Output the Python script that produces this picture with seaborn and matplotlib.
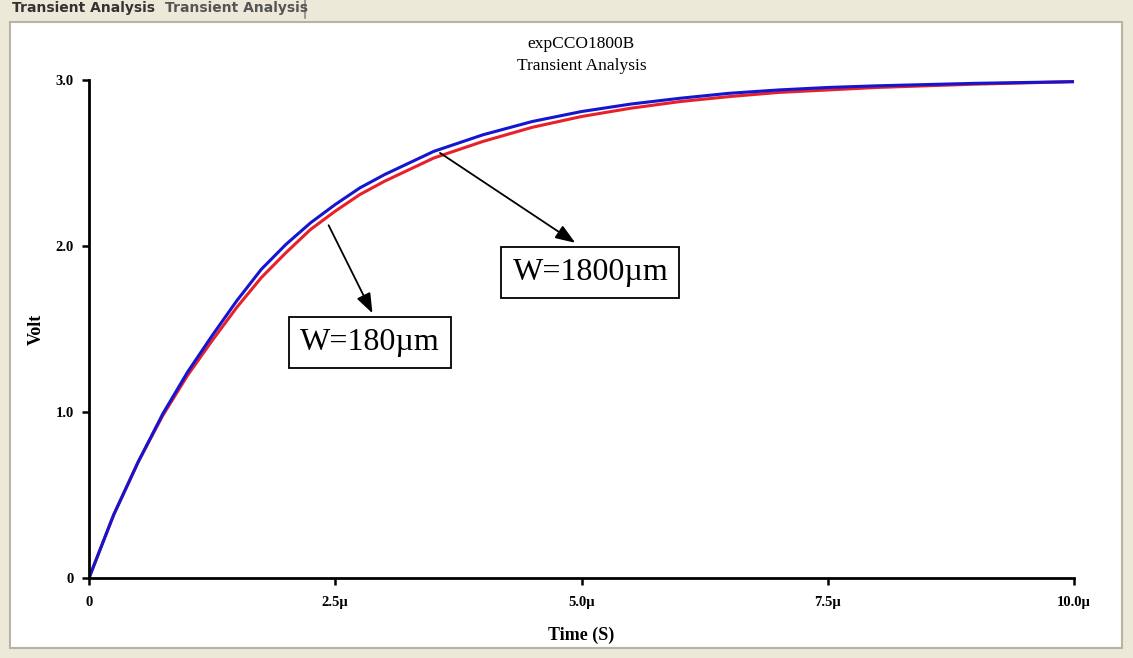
import pandas as pd
import seaborn as sns
import matplotlib.pyplot as plt
from matplotlib.patches import Rectangle

# tiempo en microsegundos
t_us = [0, 0.25, 0.5, 0.75, 1.0, 1.25, 1.5, 1.75, 2.0, 2.25, 2.5, 2.75, 3.0,
        3.5, 4.0, 4.5, 5.0, 5.5, 6.0, 6.5, 7.0, 7.5, 8.0, 9.0, 10.0]
v_180 = [0, 0.38, 0.70, 0.98, 1.22, 1.43, 1.63, 1.81, 1.96, 2.10, 2.21, 2.31, 2.39,
         2.53, 2.63, 2.715, 2.78, 2.83, 2.87, 2.90, 2.925, 2.94, 2.955, 2.975, 2.99]
v_1800 = [0, 0.38, 0.70, 0.99, 1.24, 1.46, 1.67, 1.86, 2.01, 2.14, 2.25, 2.35, 2.43,
          2.57, 2.67, 2.75, 2.81, 2.855, 2.89, 2.92, 2.94, 2.955, 2.965, 2.98, 2.99]
series = ["W=180µm", "W=1800µm"]
x_ticks = [0, 2.5, 5.0, 7.5, 10.0]
x_ticklabels = ["0", "2.5µ", "5.0µ", "7.5µ", "10.0µ"]
y_ticks = [0, 1.0, 2.0, 3.0]
y_ticklabels = ["0", "1.0", "2.0", "3.0"]

df = pd.concat([
    pd.DataFrame({"t": t_us, "v": v_180, "W": series[0]}),
    pd.DataFrame({"t": t_us, "v": v_1800, "W": series[1]}),
])

sns.set_style("white")
plt.rcParams["font.family"] = ["Liberation Serif", "DejaVu Serif"]
plt.rcParams["text.color"] = "black"
plt.rcParams["axes.labelcolor"] = "black"
plt.rcParams["xtick.color"] = "black"
plt.rcParams["ytick.color"] = "black"

fig = plt.figure(figsize=(11.33, 6.58), dpi=100, facecolor="#ece9d8")
# panel blanco de la ventana
fig.patches.append(Rectangle((10 / 1133, 10 / 658), 1112 / 1133, 626 / 658,
                             transform=fig.transFigure, facecolor="white",
                             edgecolor="#b8b4a4", linewidth=1.5, zorder=-5))
fig.text(12 / 1133, 1 - 8 / 658, "Transient Analysis", fontsize=10, fontweight="bold",
         family="DejaVu Sans", color="#333333", va="center")
fig.text(165 / 1133, 1 - 8 / 658, "Transient Analysis", fontsize=10, fontweight="bold",
         family="DejaVu Sans", color="#555555", va="center")
fig.add_artist(plt.Line2D([305 / 1133, 305 / 1133], [1 - 18 / 658, 1.0],
                          transform=fig.transFigure, color="#999999", linewidth=1.5))

ax = fig.add_axes([89 / 1133, 80 / 658, 985 / 1133, 498 / 658])
ax.patch.set_alpha(0)
sns.lineplot(data=df, x="t", y="v", hue="W", hue_order=series,
             palette=["#e8202a", "#1515d0"], linewidth=2.2, ax=ax, legend=False)

ax.set_xlim(0, 10)
ax.set_ylim(0, 3)
ax.set_xticks(x_ticks, x_ticklabels, fontsize=10.5, fontweight="bold")
ax.set_yticks(y_ticks, y_ticklabels, fontsize=10.5, fontweight="bold")
ax.tick_params(axis="both", bottom=True, left=True, direction="out", length=5,
               width=1.8, color="black", pad=6)
ax.tick_params(axis="x", pad=8)
for s in ["top", "right"]:
    ax.spines[s].set_visible(False)
for s in ["left", "bottom"]:
    ax.spines[s].set_linewidth(2)
    ax.spines[s].set_color("black")
ax.set_xlabel("Time (S)", fontsize=13, fontweight="bold", labelpad=13)
ax.set_ylabel("Volt", fontsize=13, fontweight="bold", labelpad=8)
ax.set_title("expCCO1800B\nTransient Analysis", fontsize=12.5, linespacing=1.55, pad=7)

caja = dict(boxstyle="square,pad=0.35", facecolor="white", edgecolor="black", linewidth=1.3)
flecha = dict(arrowstyle="-|>,head_width=0.45,head_length=1.2", color="black", linewidth=1.3)
ax.annotate("", xy=(4.96, 2.01), xytext=(3.54, 2.57), arrowprops=flecha)
ax.annotate("", xy=(2.89, 1.58), xytext=(2.42, 2.14), arrowprops=flecha)
ax.text(5.09, 1.84, series[1], fontsize=23, ha="center", va="center", bbox=caja)
ax.text(2.85, 1.42, series[0], fontsize=23, ha="center", va="center", bbox=caja)

plt.savefig("out.png", dpi=100, facecolor=fig.get_facecolor())
